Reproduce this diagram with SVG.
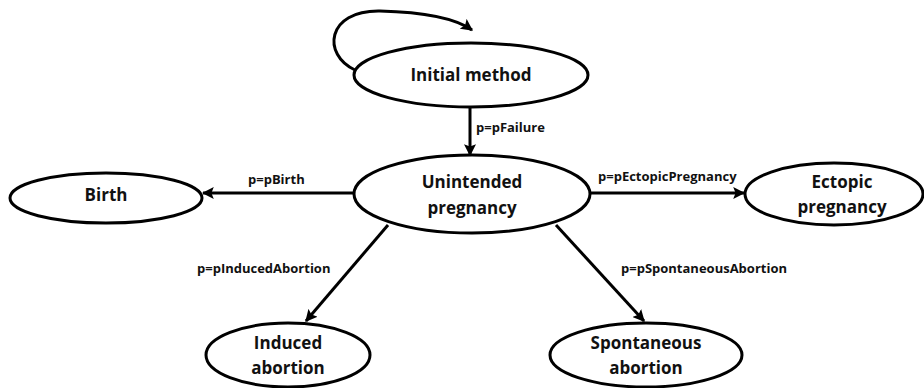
<svg xmlns="http://www.w3.org/2000/svg" width="924" height="388" viewBox="0 0 924 388">
<style>
.node ellipse{fill:#fff;stroke:#000;stroke-width:3}
.node text{font-family:"Open Sans","Liberation Sans",sans-serif;font-weight:700;font-size:17px;text-anchor:middle;fill:#111}
.edge{stroke:#000;stroke-width:3;fill:none;marker-end:url(#ah)}
.lbl{font-family:"Open Sans","Liberation Sans",sans-serif;font-weight:700;font-size:13px;fill:#111}
</style>
<defs>
<marker id="ah" viewBox="0 0 10 10" refX="9" refY="5" markerWidth="4" markerHeight="4" orient="auto" markerUnits="strokeWidth">
<path d="M0,0 L10,5 L0,10 L2,5 z" fill="#000"/>
</marker>
</defs>
<rect width="924" height="388" fill="#fff"/>
<g id="connectors">
<path class="edge" d="M355,70 C322,55 326,10 380,11 C420,12 455,18 472,30"/>
<path class="edge" d="M470,107 L470,155"/>
<path class="edge" d="M355,193 L203,193"/>
<path class="edge" d="M590,193 L744,193"/>
<path class="edge" d="M388,225 L306,321"/>
<path class="edge" d="M556,225 L644,321"/>
<text class="lbl" x="476" y="132">p=pFailure</text>
<text class="lbl" x="248" y="184">p=pBirth</text>
<text class="lbl" x="598" y="181">p=pEctopicPregnancy</text>
<text class="lbl" x="197" y="273">p=pInducedAbortion</text>
<text class="lbl" x="621" y="273">p=pSpontaneousAbortion</text>
</g>
<g id="initial" class="node">
<ellipse cx="471" cy="75" rx="117" ry="32"/>
<text x="471" y="81">Initial method</text>
</g>
<g id="unintended" class="node">
<ellipse cx="472" cy="194" rx="118" ry="39"/>
<text x="472" y="188">Unintended</text>
<text x="472" y="214">pregnancy</text>
</g>
<g id="birth" class="node">
<ellipse cx="106" cy="198" rx="96" ry="25"/>
<text x="106" y="201">Birth</text>
</g>
<g id="ectopic" class="node">
<ellipse cx="834" cy="194" rx="89" ry="31"/>
<text x="842" y="188">Ectopic</text>
<text x="842" y="213">pregnancy</text>
</g>
<g id="induced" class="node">
<ellipse cx="288" cy="355" rx="82" ry="32"/>
<text x="288" y="349">Induced</text>
<text x="288" y="374">abortion</text>
</g>
<g id="spontaneous" class="node">
<ellipse cx="646" cy="355" rx="96" ry="32"/>
<text x="646" y="349">Spontaneous</text>
<text x="646" y="374">abortion</text>
</g>
</svg>
